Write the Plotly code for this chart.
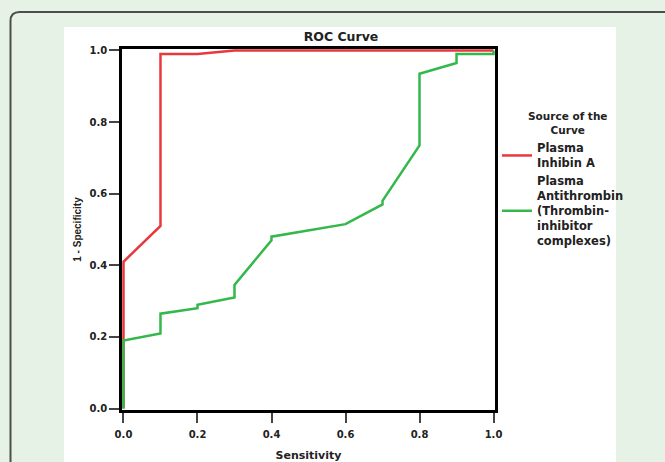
import plotly.graph_objects as go

# ---- data ----
inhibin_x = [0.0, 0.0, 0.1, 0.1, 0.2, 0.3, 1.0]
inhibin_y = [0.0, 0.41, 0.51, 0.99, 0.99, 1.0, 1.0]

antithrombin_x = [0.0, 0.0, 0.1, 0.1, 0.2, 0.2, 0.3, 0.3, 0.4, 0.4, 0.6, 0.7, 0.7, 0.8, 0.8, 0.9, 0.9, 1.0, 1.0]
antithrombin_y = [0.0, 0.19, 0.21, 0.265, 0.28, 0.29, 0.31, 0.345, 0.47, 0.48, 0.515, 0.57, 0.58, 0.735, 0.935, 0.965, 0.99, 0.99, 1.0]

tick_vals = [0.0, 0.2, 0.4, 0.6, 0.8, 1.0]
series_names = ["Plasma<br>Inhibin A",
                "Plasma<br>Antithrombin<br>(Thrombin-<br>inhibitor<br>complexes)"]
legend_title = "Source of the<br>Curve"

RED = "#e8383f"
GREEN = "#33b84b"
BG = "#e7f2e6"
TXT = "#222"

W, H = 665, 462
L, R, T, B = 122, 170, 49, 52
PW, PH = W - L - R, H - T - B


def px2x(px):
    return (px - L) / PW


def py2y(py):
    return (H - B - py) / PH


fig = go.Figure()
fig.add_trace(go.Scatter(x=inhibin_x, y=inhibin_y, mode="lines", name=series_names[0],
                         line=dict(color=RED, width=2.5)))
fig.add_trace(go.Scatter(x=antithrombin_x, y=antithrombin_y, mode="lines", name=series_names[1],
                         line=dict(color=GREEN, width=2.5)))

# white chart panel and rounded outer frame
shapes = [
    dict(type="rect", xref="paper", yref="paper", layer="below",
         x0=px2x(64), x1=px2x(616), y0=py2y(470), y1=py2y(27),
         fillcolor="white", line=dict(width=0)),
    dict(type="path", xref="paper", yref="paper", layer="below",
         path=(f"M {px2x(10.5)},{py2y(475)} L {px2x(10.5)},{py2y(21)} "
               f"Q {px2x(10.5)},{py2y(12)} {px2x(19.5)},{py2y(12)} L {px2x(680)},{py2y(12)}"),
         line=dict(color="#4d4d4d", width=2)),
]

axis_common = dict(
    tickvals=tick_vals, tickformat=".1f", ticks="outside", tickcolor="#444", tickwidth=1.5,
    showline=True, linecolor="black", linewidth=2.5, mirror=True,
    showgrid=False, zeroline=False, layer="below traces",
    tickfont=dict(family="DejaVu Sans", size=10, color=TXT, weight="bold"),
)

fig.update_layout(
    width=W, height=H,
    margin=dict(l=L, r=R, t=T, b=B, autoexpand=False),
    paper_bgcolor=BG, plot_bgcolor="white",
    shapes=shapes,
    title=dict(text="ROC Curve", x=px2x(341), xref="paper", xanchor="center",
               y=1 - 37 / H, yanchor="middle",
               font=dict(family="DejaVu Sans", size=12.5, color=TXT, weight="bold")),
    xaxis=dict(range=[-0.004, 1.004], ticklen=10, ticklabelstandoff=3,
               title=dict(text="Sensitivity", standoff=13,
                          font=dict(family="DejaVu Sans", size=11, color=TXT, weight="bold")),
               **axis_common),
    yaxis=dict(range=[-0.004, 1.004], ticklen=10,
               title=dict(text="1 - Specificity", standoff=7,
                          font=dict(family="Liberation Sans", size=10, color=TXT, weight="bold")),
               **axis_common),
    legend=dict(x=px2x(497), xanchor="left", y=py2y(134), yanchor="top",
                bgcolor="rgba(0,0,0,0)", itemwidth=30,
                font=dict(family="DejaVu Sans", size=11.5, color=TXT, weight="bold")),
    annotations=[dict(text=legend_title, xref="paper", yref="paper",
                      x=px2x(567), y=py2y(123), xanchor="center", yanchor="middle",
                      align="center", showarrow=False,
                      font=dict(family="DejaVu Sans", size=10.5, color=TXT, weight="bold"))],
    showlegend=True,
)

fig.write_html("out.html", config={"displayModeBar": False},
               post_script="document.body.style.margin='0px';")
